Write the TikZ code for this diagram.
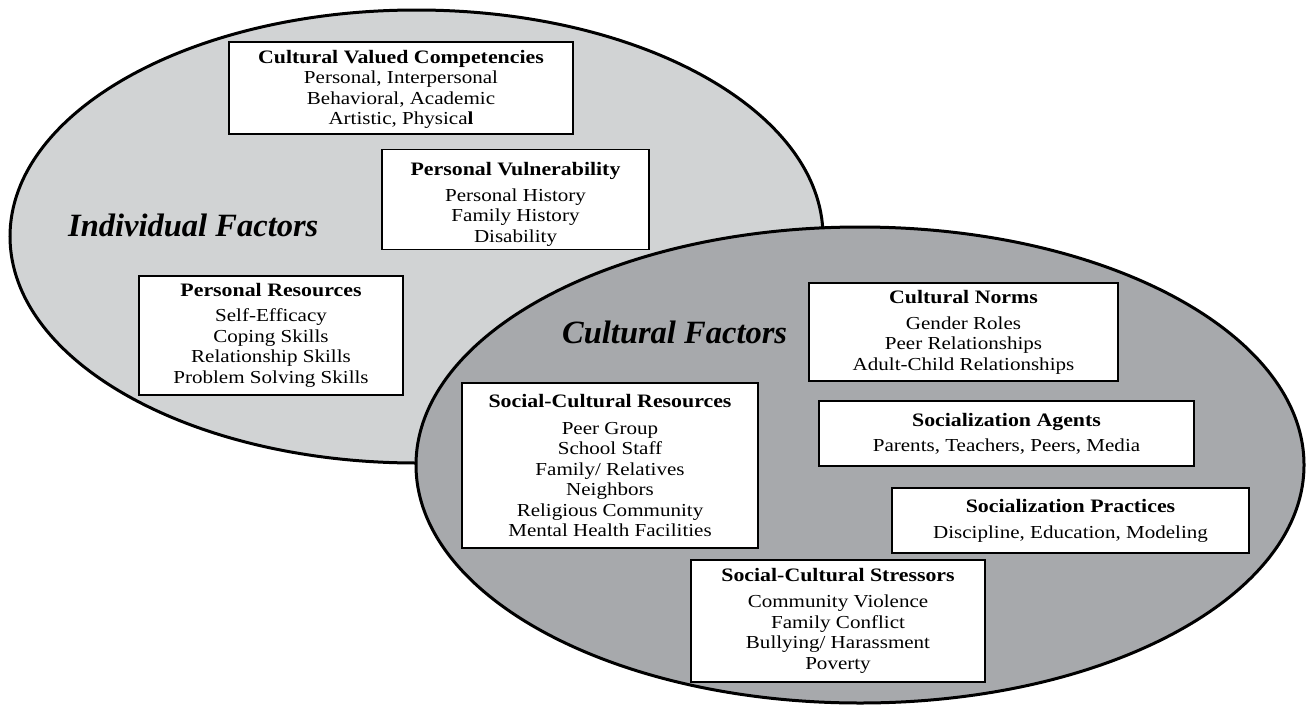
\documentclass[tikz,border=0pt]{standalone}
\usepackage{fontspec}
\setmainfont{Liberation Serif}[FakeStretch=1.15]
\newfontfamily\labelfont{Liberation Serif}
\definecolor{lightell}{HTML}{D1D3D4}
\definecolor{darkell}{HTML}{A7A9AC}
\newcommand\boxtitle[1]{{\fontsize{19}{20.5}\selectfont\bfseries #1}}
\begin{document}
\begin{tikzpicture}[x=1pt,y=-1pt,
  ellipseline/.style={draw=black, line width=3pt},
  factorbox/.style={draw=black, line width=1.5pt, fill=white, inner sep=0pt,
    align=center, font=\fontsize{18.3}{20.5}\selectfont},
  factorlabel/.style={anchor=base west, inner sep=0pt,
    font=\labelfont\bfseries\itshape\fontsize{32.5}{36}\selectfont}]
\useasboundingbox (0,0) rectangle (1308,707);
\fill[white] (0,0) rectangle (1308,707);
% ellipses
\draw[ellipseline, fill=lightell] (416.5,236.5) ellipse [x radius=406.5pt, y radius=226.5pt];
\draw[ellipseline, fill=darkell] (860,465) ellipse [x radius=444pt, y radius=238pt];
% labels
\node[factorlabel] (indiv) at (68,236) {Individual Factors};
\node[factorlabel] (cult) at (562,343) {Cultural Factors};
% individual boxes
\node[factorbox, minimum width=344pt, minimum height=92pt] (cvc) at (401,88)
  {\mbox{}\\[-4.5pt]\boxtitle{Cultural Valued Competencies}\\ Personal, Interpersonal\\ Behavioral, Academic\\ Artistic, Physica\textbf{l}};
\node[factorbox, minimum width=267pt, minimum height=100pt] (pv) at (515.5,199.5)
  {\mbox{}\\[2pt]\boxtitle{Personal Vulnerability}\\[5.5pt] Personal History\\ Family History\\ Disability};
\node[factorbox, minimum width=264pt, minimum height=119pt] (pr) at (271,335.5)
  {\boxtitle{Personal Resources}\\[4.5pt] Self-Efficacy\\ Coping Skills\\ Relationship Skills\\ Problem Solving Skills};
% cultural boxes
\node[factorbox, minimum width=309pt, minimum height=98pt] (cn) at (963.5,332)
  {\boxtitle{Cultural Norms}\\[5.5pt] Gender Roles\\ Peer Relationships\\ Adult-Child Relationships};
\node[factorbox, minimum width=375pt, minimum height=65pt] (sa) at (1006.5,433.5)
  {\boxtitle{Socialization Agents}\\[4.5pt] Parents, Teachers, Peers, Media};
\node[factorbox, minimum width=357pt, minimum height=65pt] (sp) at (1070.5,520.5)
  {\boxtitle{Socialization Practices}\\[5.5pt] Discipline, Education, Modeling};
\node[factorbox, minimum width=294pt, minimum height=122pt] (scs) at (838,621)
  {\boxtitle{Social-Cultural Stressors}\\[5.5pt] Community Violence\\ Family Conflict\\ Bullying/ Harassment\\ Poverty};
\node[factorbox, minimum width=296pt, minimum height=165pt] (scr) at (610,465.5)
  {\boxtitle{Social-Cultural Resources}\\[6pt] Peer Group\\ School Staff\\ Family/ Relatives\\ Neighbors\\ Religious Community\\ Mental Health Facilities};
\end{tikzpicture}
\end{document}
